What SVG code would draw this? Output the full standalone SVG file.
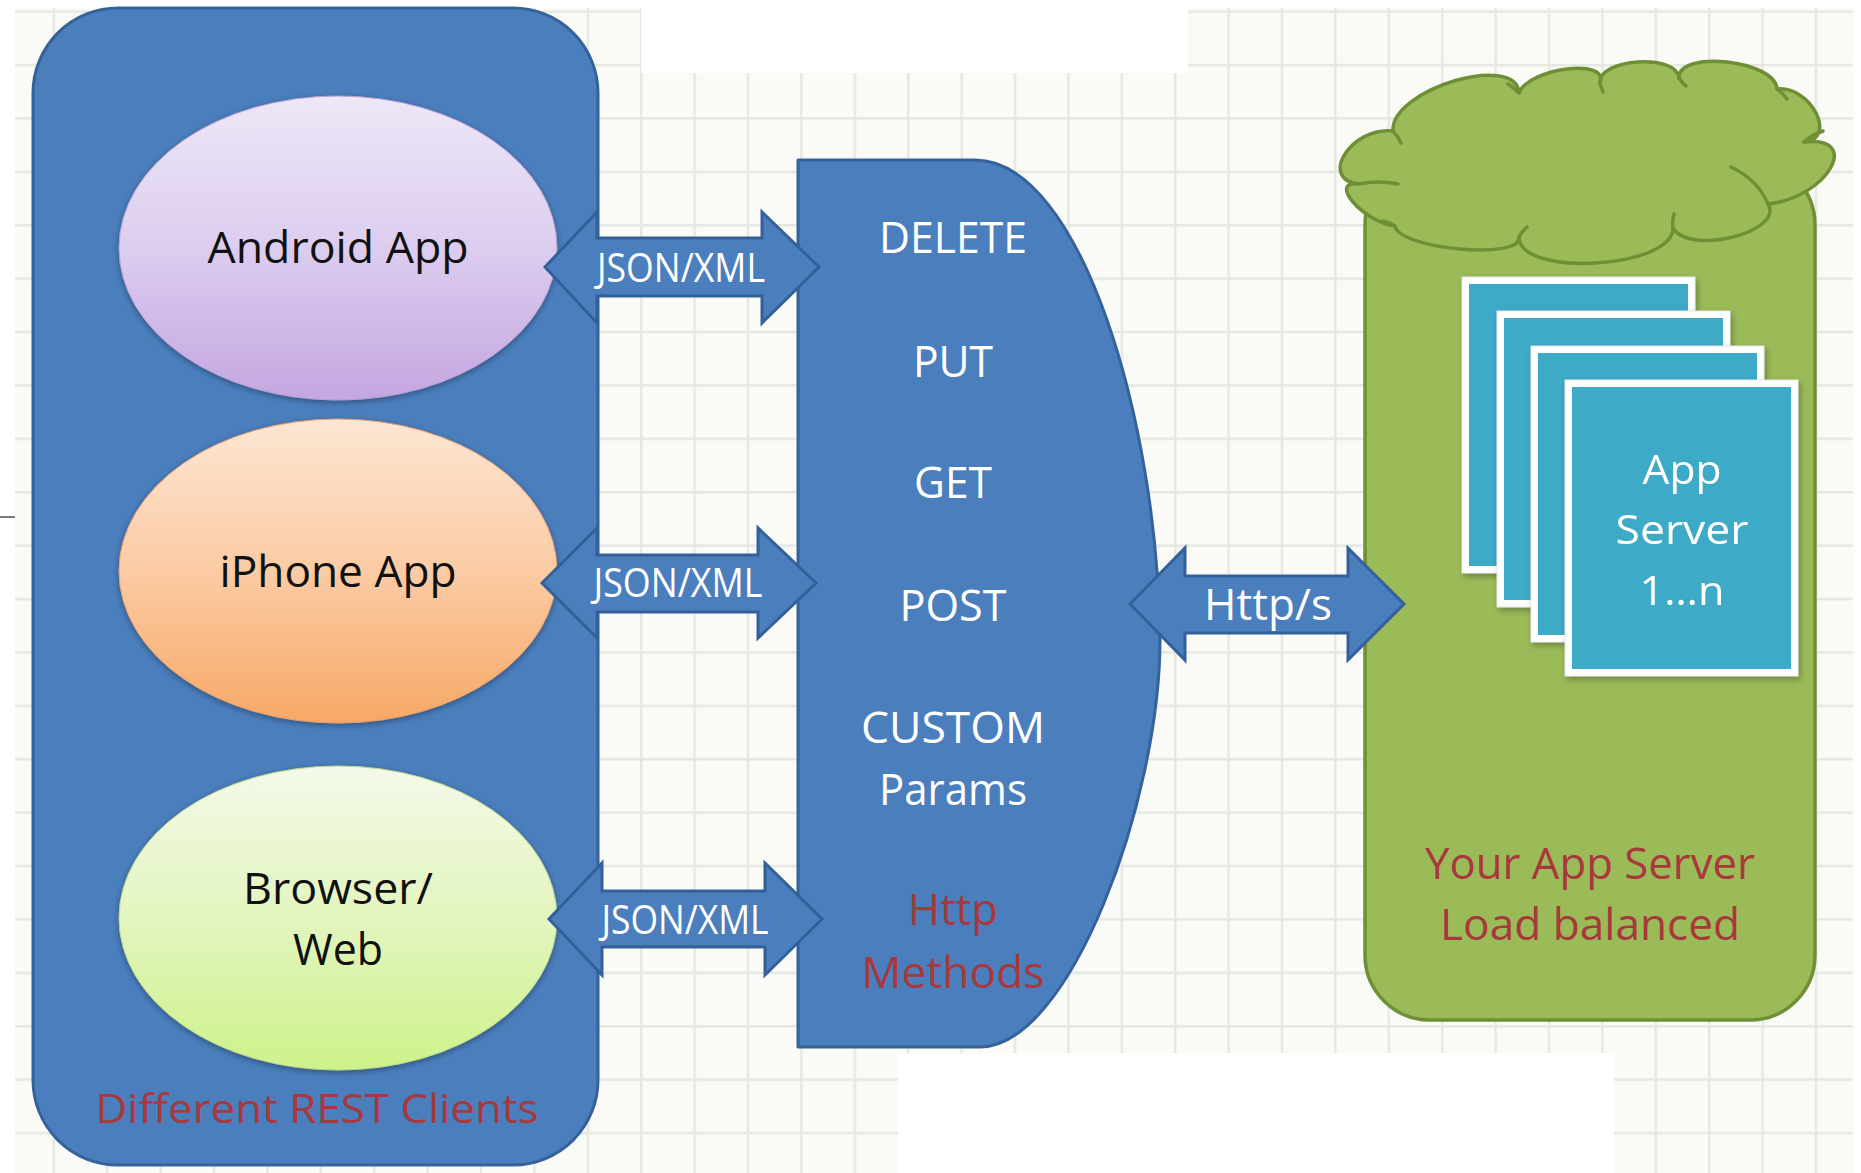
<svg xmlns="http://www.w3.org/2000/svg" width="1861" height="1173" viewBox="0 0 1861 1173">
<style>
.t{font-family:"Open Sans","Liberation Sans",Arial,sans-serif;text-anchor:middle}
.w{fill:#ffffff}
.k{fill:#111111}
.r{fill:#a8383c}
.blue{fill:#4a7ebd;stroke:#36629a;stroke-width:3;stroke-linejoin:round}
.arrow{fill:#4a7ebd;stroke:#34609a;stroke-width:3;stroke-linejoin:miter}
.srvOuter{fill:#ffffff;stroke:#e8e8e8;stroke-width:1}
.srvInner{fill:#3eaac8}
.green{fill:#9bbb59;stroke:#6f8f36;stroke-width:3.5}
.inner{fill:none;stroke:#6f8f36;stroke-width:3.5;stroke-linecap:round}
</style>
<defs>
<pattern id="grid" width="53.4" height="53.4" patternUnits="userSpaceOnUse" x="-0.8" y="10.4">
<rect width="53.4" height="53.4" fill="#fafbf7"/>
<path d="M1.2,0 V53.4 M0,1.2 H53.4" stroke="#e5e8e1" stroke-width="2.4"/>
</pattern>
<linearGradient id="gPurple" x1="0" y1="0" x2="0" y2="1">
<stop offset="0" stop-color="#eee7f7"/><stop offset="0.5" stop-color="#dccdef"/><stop offset="1" stop-color="#c4a6e0"/>
</linearGradient>
<linearGradient id="gOrange" x1="0" y1="0" x2="0" y2="1">
<stop offset="0" stop-color="#fde6d4"/><stop offset="0.5" stop-color="#fbcba4"/><stop offset="1" stop-color="#f7a866"/>
</linearGradient>
<linearGradient id="gGreen" x1="0" y1="0" x2="0" y2="1">
<stop offset="0" stop-color="#f3f9e9"/><stop offset="0.5" stop-color="#e3f5bf"/><stop offset="1" stop-color="#cdf28a"/>
</linearGradient>
<filter id="sh" x="-10%" y="-10%" width="120%" height="125%">
<feDropShadow dx="0" dy="2" stdDeviation="3" flood-color="#000" flood-opacity="0.35"/>
</filter>
<filter id="sh2" x="-10%" y="-10%" width="125%" height="125%">
<feDropShadow dx="2" dy="3" stdDeviation="3" flood-color="#000" flood-opacity="0.3"/>
</filter>
</defs>

<!-- background -->
<rect x="0" y="0" width="1861" height="1173" fill="#ffffff"/>
<rect x="15" y="8" width="1838" height="1165" fill="url(#grid)"/>
<rect x="641" y="0" width="547" height="73" fill="#ffffff"/>
<rect x="898" y="1053" width="716" height="120" fill="#ffffff"/>
<line x1="0" y1="517" x2="15" y2="517" stroke="#7a7a7a" stroke-width="2"/>

<!-- Clients container -->
<g id="clients">
<rect class="blue" x="33" y="8" width="565" height="1157" rx="85" ry="85"/>
<text class="t r" x="317" y="1123" font-size="41" textLength="443" lengthAdjust="spacingAndGlyphs">Different REST Clients</text>
</g>

<g id="android">
<ellipse cx="338" cy="248" rx="219" ry="152" fill="url(#gPurple)" stroke="#b9a0d4" stroke-width="1" filter="url(#sh)"/>
<text class="t k" x="338" y="263" font-size="43" textLength="261" lengthAdjust="spacingAndGlyphs">Android App</text>
</g>

<g id="iphone">
<ellipse cx="338" cy="571" rx="219" ry="152" fill="url(#gOrange)" stroke="#e9a06a" stroke-width="1" filter="url(#sh)"/>
<text class="t k" x="338" y="587" font-size="43" textLength="237" lengthAdjust="spacingAndGlyphs">iPhone App</text>
</g>

<g id="browser">
<ellipse cx="338" cy="918" rx="219" ry="152" fill="url(#gGreen)" stroke="#bcd98a" stroke-width="1" filter="url(#sh)"/>
<text class="t k" x="338" y="904" font-size="43" textLength="190" lengthAdjust="spacingAndGlyphs">Browser/</text>
<text class="t k" x="338" y="965" font-size="43" textLength="90" lengthAdjust="spacingAndGlyphs">Web</text>
</g>

<!-- Http methods D-shape -->
<g id="methods">
<path class="blue" d="M798,160 L975,160 C1080,160 1158,420 1160,640 C1160,800 1070,1047 980,1047 L798,1047 Z"/>
<text class="t w" x="953" y="253" font-size="44" textLength="148" lengthAdjust="spacingAndGlyphs">DELETE</text>
<text class="t w" x="953" y="377" font-size="44" textLength="80" lengthAdjust="spacingAndGlyphs">PUT</text>
<text class="t w" x="953" y="498" font-size="44" textLength="78" lengthAdjust="spacingAndGlyphs">GET</text>
<text class="t w" x="953" y="621" font-size="44" textLength="107" lengthAdjust="spacingAndGlyphs">POST</text>
<text class="t w" x="953" y="743" font-size="44" textLength="184" lengthAdjust="spacingAndGlyphs">CUSTOM</text>
<text class="t w" x="953" y="805" font-size="44" textLength="148" lengthAdjust="spacingAndGlyphs">Params</text>
<text class="t r" x="953" y="925" font-size="44" textLength="90" lengthAdjust="spacingAndGlyphs">Http</text>
<text class="t r" x="953" y="988" font-size="44" textLength="183" lengthAdjust="spacingAndGlyphs">Methods</text>
</g>

<!-- App server container -->
<g id="appserver">
<rect class="green" x="1365" y="160" width="450" height="860" rx="65" ry="65"/>
<path class="green" stroke-width="4" stroke-linejoin="round" d="M1393,131 C1390.3,89.7 1516.3,51.7 1519,93 C1529,67.7 1610,57.7 1600,83 C1598,58.3 1677,53.3 1679,78 C1677.7,49.3 1775.7,60.3 1777,89 C1811,85.7 1838,138.7 1804,142 C1862,135 1829,197 1768,204 C1784.7,232 1689.7,256 1673,228 C1673,268.7 1519,277.7 1519,237 C1523,260.3 1399,249.3 1395,226 C1363,222 1327,180 1359,184 C1317.7,179.3 1351.7,126.3 1393,131 Z"/>
<path class="inner" d="M1359,184 Q1378,180 1398,184 M1731,167 Q1758,180 1768,204 M1804,142 Q1812,135 1823,131 M1673,228 Q1672,221 1674,214 M1519,237 Q1522,231 1527,227 M1395,226 Q1389,222 1382,221 M1519,93 Q1514,88 1508,84 M1600,83 Q1601,88 1603,92 M1679,78 Q1682,83 1686,86 M1777,89 Q1783,93 1787,99 M1393,131 Q1398,136 1401,143"/>
<text class="t r" x="1590" y="879" font-size="43" textLength="330" lengthAdjust="spacingAndGlyphs">Your App Server</text>
<text class="t r" x="1590" y="940" font-size="43" textLength="300" lengthAdjust="spacingAndGlyphs">Load balanced</text>
</g>

<g id="server1" filter="url(#sh2)">
<rect class="srvOuter" x="1462" y="277" width="233" height="296"/>
<rect class="srvInner" x="1469" y="284" width="219" height="282"/>
</g>
<g id="server2" filter="url(#sh2)">
<rect class="srvOuter" x="1497" y="311" width="233" height="296"/>
<rect class="srvInner" x="1504" y="318" width="219" height="282"/>
</g>
<g id="server3" filter="url(#sh2)">
<rect class="srvOuter" x="1531" y="346" width="233" height="296"/>
<rect class="srvInner" x="1538" y="353" width="219" height="282"/>
</g>
<g id="server4" filter="url(#sh2)">
<rect class="srvOuter" x="1565" y="380" width="233" height="296"/>
<rect class="srvInner" x="1572" y="387" width="219" height="282"/>
<text class="t w" x="1682" y="484" font-size="41" textLength="79" lengthAdjust="spacingAndGlyphs">App</text>
<text class="t w" x="1682" y="544" font-size="41" textLength="133" lengthAdjust="spacingAndGlyphs">Server</text>
<text class="t w" x="1682" y="605" font-size="41" textLength="85" lengthAdjust="spacingAndGlyphs">1…n</text>
</g>

<!-- connectors -->
<g id="connectors">
<g id="arrow-android">
<path class="arrow" d="M545,267 L597,212 L597,238 L762,238 L762,212 L819,267 L762,323 L762,296 L597,296 L597,323 Z"/>
<text class="t w" x="681" y="282" font-size="40" textLength="168" lengthAdjust="spacingAndGlyphs">JSON/XML</text>
</g>
<g id="arrow-iphone">
<path class="arrow" d="M542,583 L597,528 L597,555 L758,555 L758,528 L816,583 L758,638 L758,612 L597,612 L597,638 Z"/>
<text class="t w" x="678" y="597" font-size="40" textLength="169" lengthAdjust="spacingAndGlyphs">JSON/XML</text>
</g>
<g id="arrow-browser">
<path class="arrow" d="M549,919 L602,863 L602,891 L765,891 L765,863 L822,919 L765,975 L765,947 L602,947 L602,975 Z"/>
<text class="t w" x="685" y="934" font-size="40" textLength="167" lengthAdjust="spacingAndGlyphs">JSON/XML</text>
</g>
<g id="arrow-http">
<path class="arrow" d="M1130,604 L1185,548 L1185,576 L1348,576 L1348,548 L1404,604 L1348,660 L1348,633 L1185,633 L1185,660 Z"/>
<text class="t w" x="1268" y="620" font-size="44" textLength="128" lengthAdjust="spacingAndGlyphs">Http/s</text>
</g>
</g>
</svg>
